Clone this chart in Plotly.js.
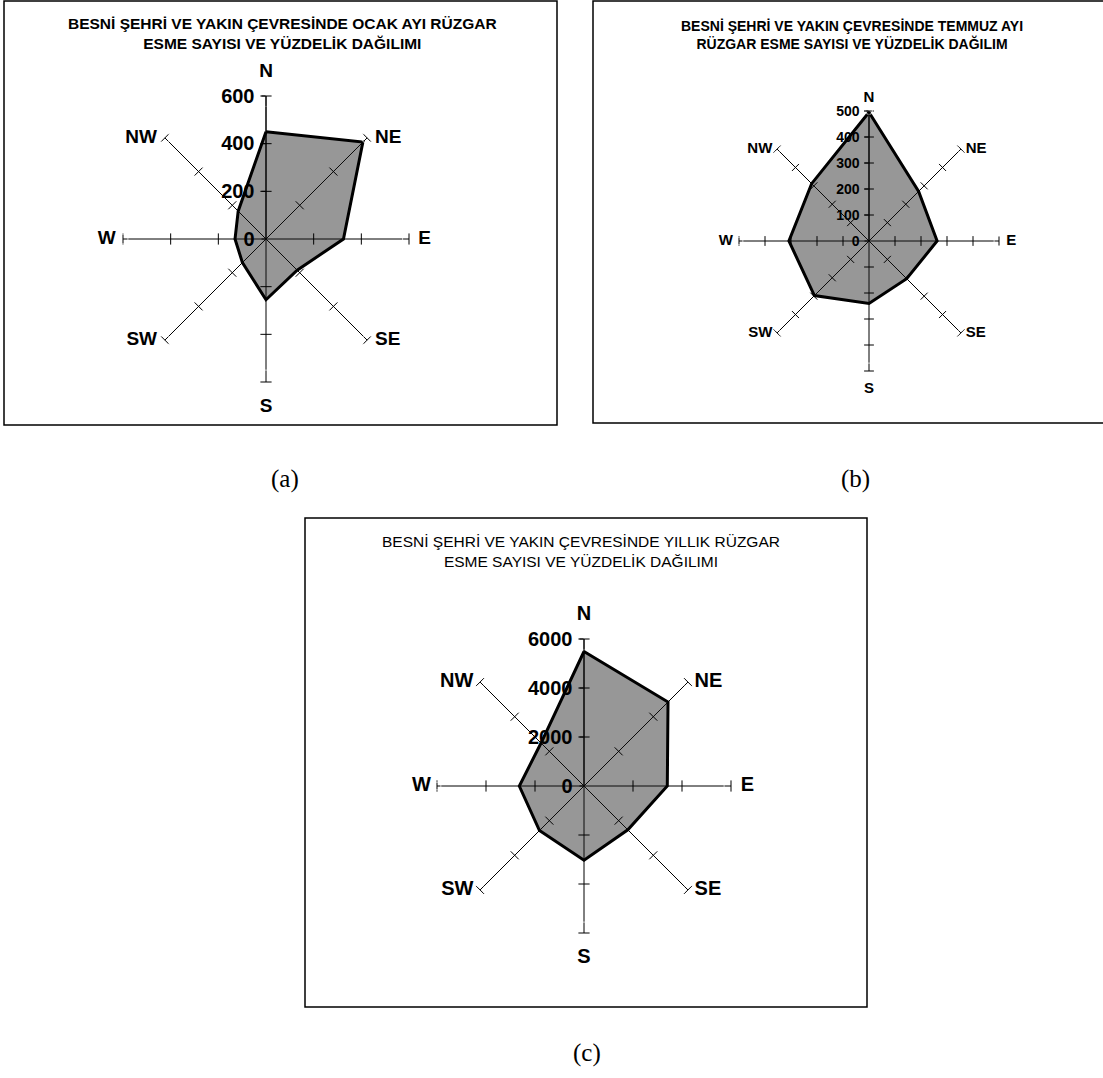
<!DOCTYPE html>
<html>
<head>
<meta charset="utf-8">
<script src="https://cdn.plot.ly/plotly-3.0.1.min.js"></script>
<style>html,body{margin:0;padding:0;background:#fff;}#chart{width:1103px;height:1078px;}</style>
</head>
<body>
<div id="chart"></div>
<script>
// ---- data ----
const directions = ['N', 'NE', 'E', 'SE', 'S', 'SW', 'W', 'NW'];
const ocakValues = [450, 575, 325, 185, 255, 140, 130, 165];      // (a) January
const temmuzValues = [495, 270, 262, 205, 240, 297, 308, 312];    // (b) July
const yillikValues = [5490, 4850, 3400, 2530, 3030, 2570, 2640, 2480]; // (c) annual
const ticksA = [0, 200, 400, 600];
const ticksB = [0, 100, 200, 300, 400, 500];
const ticksC = [0, 2000, 4000, 6000];
const titleA = 'BESNİ ŞEHRİ VE YAKIN ÇEVRESİNDE OCAK AYI RÜZGAR<br>ESME SAYISI VE YÜZDELİK DAĞILIMI';
const titleB = 'BESNİ ŞEHRİ VE YAKIN ÇEVRESİNDE TEMMUZ AYI<br>RÜZGAR ESME SAYISI VE YÜZDELİK DAĞILIM';
const titleC = 'BESNİ ŞEHRİ VE YAKIN ÇEVRESİNDE YILLIK RÜZGAR<br>ESME SAYISI VE YÜZDELİK DAĞILIMI';
const panelLabels = ['(a)', '(b)', '(c)'];

// ---- styling helpers ----
const W = 1103, H = 1078;
const px = v => v / W;
const py = v => 1 - v / H;
const FONT = 'Liberation Sans, Arial, sans-serif';
const SERIF = 'Liberation Serif, Times New Roman, serif';
const perpSymbol = {N: 'line-ew', S: 'line-ew', E: 'line-ns', W: 'line-ns',
                    NE: 'line-nw', SW: 'line-nw', NW: 'line-ne', SE: 'line-ne'};
const labelPos = {N: 'top center', NE: 'middle right', E: 'middle right', SE: 'middle right',
                  S: 'bottom center', SW: 'middle left', W: 'middle left', NW: 'middle left'};
// standoff of the compass labels from the spoke ends (invisible marker sizes)
const standoffA = {N: 21, S: 24, E: 13, W: 10, NE: 11, SE: 11, SW: 11, NW: 11};
const standoffB = {N: 7, S: 16, E: 10, W: 8, NE: 6, SE: 6, SW: 6, NW: 6};
const standoffC = {N: 21, S: 22, E: 14, W: 8, NE: 9, SE: 9, SW: 9, NW: 9};

function polygonTrace(values, subplot, lw) {
  return {
    type: 'scatterpolar', subplot: subplot,
    r: values.concat([values[0]]),
    theta: directions.concat([directions[0]]),
    mode: 'lines', fill: 'toself',
    fillcolor: 'rgba(25,25,25,0.45)',
    line: {color: '#000', width: lw},
    hoverinfo: 'skip'
  };
}
function tickTrace(ticks, subplot, size) {
  const r = [], th = [], sym = [];
  directions.forEach(d => {
    ticks.filter(t => t > 0).forEach(t => { r.push(t); th.push(d); sym.push(perpSymbol[d]); });
  });
  return {
    type: 'scatterpolar', subplot: subplot, r: r, theta: th, mode: 'markers',
    marker: {symbol: sym, size: size, color: '#000', line: {color: '#000', width: 1}},
    hoverinfo: 'skip'
  };
}
function labelTrace(ticks, subplot, standoff, fontSize) {
  const rmax = ticks[ticks.length - 1];
  return {
    type: 'scatterpolar', subplot: subplot, mode: 'markers+text', cliponaxis: false,
    r: directions.map(() => rmax), theta: directions, text: directions,
    textposition: directions.map(d => labelPos[d]),
    textfont: {family: FONT, size: fontSize, color: '#000', weight: 'bold'},
    marker: {size: directions.map(d => standoff[d]), color: 'rgba(0,0,0,0)'},
    hoverinfo: 'skip'
  };
}
function polarLayout(cx, cy, rad, ticks, radFont) {
  return {
    domain: {x: [px(cx - rad), px(cx + rad)], y: [py(cy + rad), py(cy - rad)]},
    bgcolor: 'rgba(0,0,0,0)',
    radialaxis: {
      range: [0, ticks[ticks.length - 1]], tickvals: ticks,
      showgrid: false, showline: true, linecolor: '#000', linewidth: 1,
      angle: 90, side: 'counterclockwise', tickangle: 90,
      ticks: 'outside', ticklen: 4, tickcolor: '#000',
      tickfont: radFont
    },
    angularaxis: {
      type: 'category', categoryarray: directions,
      direction: 'clockwise', rotation: 90,
      showgrid: true, gridcolor: '#000', gridwidth: 1,
      showline: false, ticks: '', showticklabels: false
    }
  };
}

const data = [
  polygonTrace(ocakValues, 'polar', 3),
  tickTrace(ticksA, 'polar', 8),
  labelTrace(ticksA, 'polar', standoffA, 19),
  polygonTrace(temmuzValues, 'polar2', 3),
  tickTrace(ticksB, 'polar2', 7),
  labelTrace(ticksB, 'polar2', standoffB, 15),
  polygonTrace(yillikValues, 'polar3', 3),
  tickTrace(ticksC, 'polar3', 8),
  labelTrace(ticksC, 'polar3', standoffC, 20)
];

const frames = [
  [4, 1, 557, 425],
  [593, 1, 1110, 423],
  [305, 518, 867, 1007]
];

const boldFont = (s) => ({family: FONT, size: s, color: '#000', weight: 'bold'});

const layout = {
  width: W, height: H,
  margin: {l: 0, r: 0, t: 0, b: 0},
  paper_bgcolor: '#fff',
  showlegend: false,
  polar: polarLayout(266, 239, 143, ticksA, boldFont(20)),
  polar2: polarLayout(869, 241, 130, ticksB, boldFont(14)),
  polar3: polarLayout(584, 786, 147, ticksC, boldFont(20)),
  shapes: frames.map(f => ({
    type: 'rect', xref: 'paper', yref: 'paper',
    x0: px(f[0]), x1: px(f[2]), y0: py(f[3]), y1: py(f[1]),
    line: {color: '#000', width: 1.5}, layer: 'below'
  })),
  annotations: [
    {text: titleA, x: px(282), y: py(33), font: {family: FONT, size: 15.5, color: '#000', weight: 'bold'}},
    {text: titleB, x: px(852), y: py(35), font: {family: FONT, size: 14, color: '#000', weight: 'bold'}},
    {text: titleC, x: px(581), y: py(551), font: {family: FONT, size: 15.5, color: '#000'}},
    {text: panelLabels[0], x: px(285), y: py(479), font: {family: SERIF, size: 25, color: '#000'}},
    {text: panelLabels[1], x: px(855), y: py(479), font: {family: SERIF, size: 25, color: '#000'}},
    {text: panelLabels[2], x: px(587), y: py(1053), font: {family: SERIF, size: 25, color: '#000'}}
  ].map(a => Object.assign({xref: 'paper', yref: 'paper', showarrow: false, xanchor: 'center', yanchor: 'middle', align: 'center'}, a))
};

Plotly.newPlot('chart', data, layout, {displayModeBar: false, staticPlot: true});
</script>
</body>
</html>
